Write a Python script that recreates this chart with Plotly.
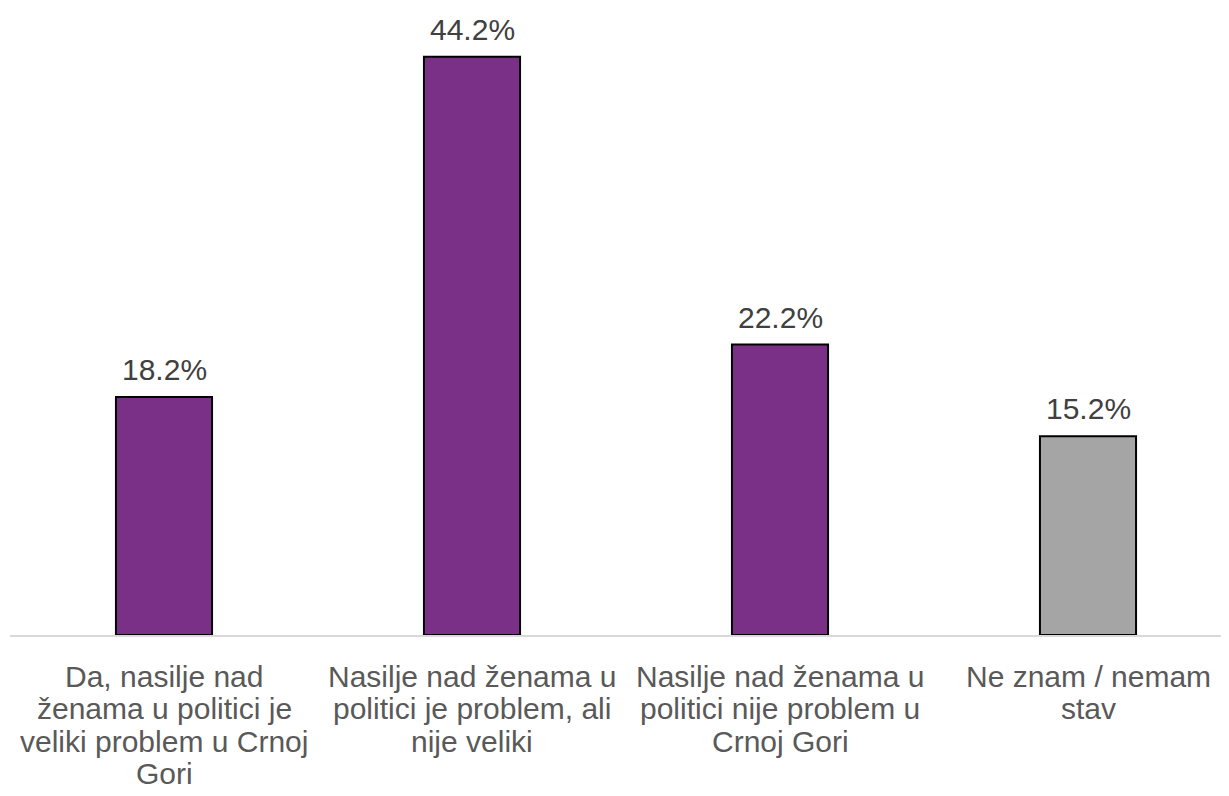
import plotly.graph_objects as go

categories = [
    "Da, nasilje nad<br>ženama u politici je<br>veliki problem u Crnoj<br>Gori",
    "Nasilje nad ženama u<br>politici je problem, ali<br>nije veliki",
    "Nasilje nad ženama u<br>politici nije problem u<br>Crnoj Gori",
    "Ne znam / nemam<br>stav",
]
values = [18.2, 44.2, 22.2, 15.2]
value_labels = ["18.2%", "44.2%", "22.2%", "15.2%"]
bar_colors = ["#7A3087", "#7A3087", "#7A3087", "#A5A5A5"]

FONT = "Liberation Sans, Arial, sans-serif"
xs = list(range(len(categories)))

fig = go.Figure()
fig.add_trace(go.Bar(
    x=xs, y=values, width=0.312,
    marker=dict(color=bar_colors, line=dict(color="#000000", width=2)),
    hoverinfo="skip",
))

annotations = []
for i, (v, t) in enumerate(zip(values, value_labels)):
    annotations.append(dict(
        x=i, y=v, xref="x", yref="y", text=t, showarrow=False,
        xanchor="center", yanchor="bottom", yshift=9,
        font=dict(family=FONT, size=30, color="#404040"),
    ))
for i, lab in enumerate(categories):
    for j, line in enumerate(lab.split("<br>")):
        annotations.append(dict(
            x=i, y=0, xref="x", yref="y", text=line, showarrow=False,
            xanchor="center", yanchor="middle", yshift=-(41 + j * 32.6),
            font=dict(family=FONT, size=30, color="#595959"),
        ))

fig.update_layout(
    width=1221, height=788,
    margin=dict(l=2, r=0, t=0, b=161),
    paper_bgcolor="white", plot_bgcolor="white",
    showlegend=False,
    annotations=annotations,
    xaxis=dict(range=[-0.5, -0.5 + 1219 / 308], showticklabels=False,
               showgrid=False, zeroline=False, showline=True,
               linecolor="#D9D9D9", linewidth=2, ticks=""),
    yaxis=dict(range=[0, 627 / 13.08], visible=False, showgrid=False,
               zeroline=False),
)
fig.write_html("out.html")
